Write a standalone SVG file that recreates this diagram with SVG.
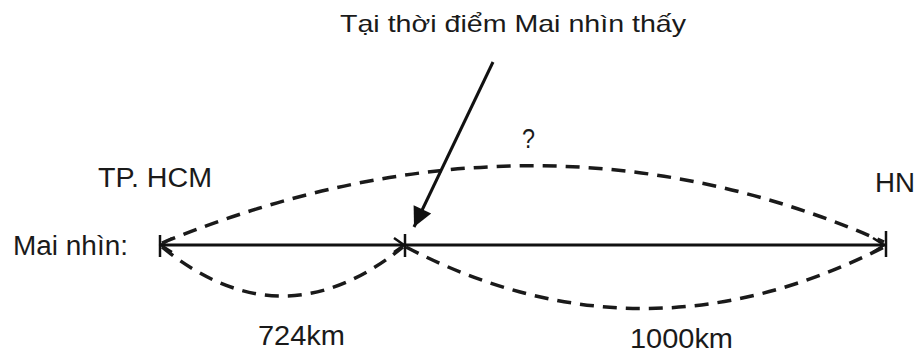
<svg xmlns="http://www.w3.org/2000/svg" width="919" height="356" viewBox="0 0 919 356">
<defs>
<style>
.t{font-family:"Liberation Sans",Arial,sans-serif;fill:#1a1a1a;}
.dash{fill:none;stroke:#1a1a1a;stroke-width:3.5;stroke-dasharray:14 9;}
.solid{fill:none;stroke:#111;stroke-width:3;}
.tick{stroke:#111;stroke-width:2.5;}
.oh{fill:none;stroke:#111;stroke-width:2.5;stroke-linejoin:miter;}
</style>
<marker id="fill" viewBox="0 0 10 10" refX="10" refY="5" markerWidth="9.5" markerHeight="6.5" markerUnits="strokeWidth" orient="auto">
<path d="M0,0 L10,5 L0,10 Z" fill="#111"/>
</marker>
</defs>
<rect width="919" height="356" fill="#fff"/>
<g id="labels">
<text class="t" x="340" y="32" font-size="24" textLength="346" lengthAdjust="spacingAndGlyphs">Tại thời điểm Mai nhìn thấy</text>
<text class="t" x="98" y="187" font-size="27" textLength="114" lengthAdjust="spacingAndGlyphs">TP. HCM</text>
<text class="t" x="13" y="255" font-size="27" textLength="115" lengthAdjust="spacingAndGlyphs">Mai nhìn:</text>
<text class="t" x="875" y="192" font-size="28" textLength="40" lengthAdjust="spacingAndGlyphs">HN</text>
<text class="t" x="522" y="148" font-size="27" textLength="13" lengthAdjust="spacingAndGlyphs">?</text>
<text class="t" x="258" y="345" font-size="28" textLength="87" lengthAdjust="spacingAndGlyphs">724km</text>
<text class="t" x="630" y="348" font-size="28" textLength="103" lengthAdjust="spacingAndGlyphs">1000km</text>
</g>
<g id="connectors">
<line class="solid" x1="160" y1="245" x2="885" y2="245"/>
<line class="tick" x1="160" y1="235" x2="160" y2="257"/>
<line class="tick" x1="405" y1="234" x2="405" y2="257"/>
<line class="tick" x1="886" y1="231" x2="886" y2="257"/>
<polyline class="oh" points="172,238 161,245 172,252"/>
<polyline class="oh" points="394,238 404,245 394,252"/>
<polyline class="oh" points="873,238 884,245 873,252"/>
<path class="dash" d="M162,243 Q538,89 884,242"/>
<path class="dash" d="M162,247 Q282,345 403,247"/>
<path class="dash" d="M406,247 Q642,370 884,247"/>
<line class="solid" x1="493" y1="62" x2="414" y2="227" marker-end="url(#fill)"/>
</g>
</svg>
